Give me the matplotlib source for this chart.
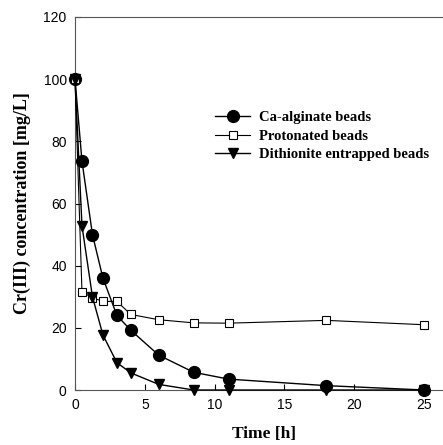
import numpy as np
import matplotlib.pyplot as plt

# Datos
t_ca = [0, 0.5, 1.25, 2, 3, 4, 6, 8.5, 11, 18, 25]
ca = [100, 73.6, 50, 36, 24, 19.2, 11.2, 5.7, 3.5, 1.4, 0]

t_pr = [0, 0.5, 1.25, 2, 3, 4, 6, 8.5, 11, 18, 25]
pr = [100, 31.5, 29.7, 28.5, 28.5, 24.3, 22.6, 21.6, 21.5, 22.4, 21]

t_di = [0, 0.5, 1.25, 2, 3, 4, 6, 8.5, 11, 18, 25]
di = [100, 52.8, 30, 17.7, 8.8, 5.5, 1.8, 0, 0, 0, 0]

fig = plt.figure(figsize=(4.43, 4.45), dpi=100)
ax = fig.add_axes([75/443., 55/445., 377/443., 373/445.])

ax.plot(t_ca, ca, 'k-', marker='o', ms=8.5, mfc='k', lw=1, label="Ca-alginate beads", clip_on=False, zorder=3)
ax.plot(t_pr, pr, 'k-', marker='s', ms=5.5, mfc='w', mew=0.8, lw=0.8, label="Protonated beads", clip_on=False, zorder=3)
ax.plot(t_di, di, 'k-', marker='v', ms=6.5, mfc='k', lw=1, label="Dithionite entrapped beads", clip_on=False, zorder=3)

ax.set_xlim(0, 27)
ax.set_ylim(0, 120)
ax.set_xticks([0, 5, 10, 15, 20, 25])
ax.set_yticks([0, 20, 40, 60, 80, 100, 120])
ax.tick_params(direction='in', length=4, width=0.8, labelsize=10, pad=6)
for lab in ax.get_xticklabels() + ax.get_yticklabels():
    lab.set_family('Liberation Sans')
for s in ax.spines.values():
    s.set_color('#555555')

ax.set_xlabel("Time [h]", family='Liberation Serif', weight='bold', fontsize=12.5, labelpad=10)
ax.set_ylabel("Cr(III) concentration [mg/L]", family='Liberation Serif', weight='bold', fontsize=13, labelpad=9)

leg = ax.legend(loc='upper left', bbox_to_anchor=(208/443., 1 - 104/445.), bbox_transform=fig.transFigure,
                frameon=False, prop={'family': 'Liberation Serif', 'weight': 'bold', 'size': 10.5},
                handlelength=2.4, handletextpad=0.6, labelspacing=0.35, borderpad=0)

plt.savefig("out.png", dpi=100)
